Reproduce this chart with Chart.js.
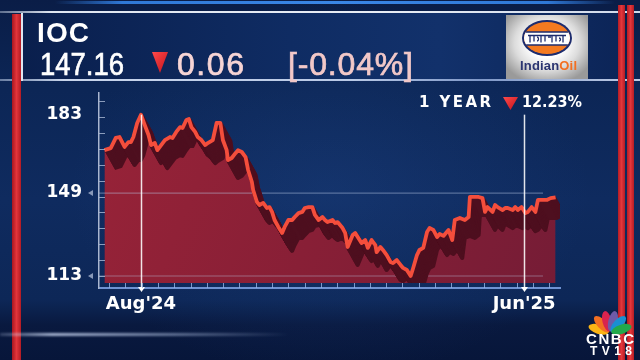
<!DOCTYPE html>
<html><head><meta charset="utf-8">
<script src="https://cdn.jsdelivr.net/npm/chart.js@4.4.1/dist/chart.umd.min.js"></script>
<style>
html,body{margin:0;padding:0;}
body{width:640px;height:360px;overflow:hidden;position:relative;background:#0d285b;font-family:"Liberation Sans",Arial,sans-serif;}
.abs{position:absolute;}
.t{position:absolute;white-space:nowrap;line-height:1;z-index:3;color:#fff;}
.hv{-webkit-text-stroke:0.7px currentColor;}
</style></head><body>
<div class="abs" style="left:0;top:0;width:640px;height:360px;background:
 radial-gradient(ellipse 260px 190px at 330px 190px, rgba(40,85,160,0.22), rgba(0,0,0,0)),
 linear-gradient(180deg,#0a1d47 0px,#0c2656 90px,#0f2b5f 200px,#0d2757 300px,#09193f 325px,#07163a 360px);"></div>
<div class="abs" style="left:22px;top:13px;width:596px;height:67px;background:linear-gradient(90deg,#0a1f4d,#0f2c63 45%,#12316b 70%,#0c2558);"></div>
<div class="abs" style="left:55px;top:1px;width:560px;height:3px;background:linear-gradient(90deg,rgba(47,120,214,0),#2f78d6 12%,#3a86e6 50%,#2f78d6 88%,rgba(47,120,214,0));"></div>
<div class="abs" style="left:0;top:11px;width:640px;height:2px;background:linear-gradient(90deg,rgba(220,230,245,.4),#dfe6f1 8%,#e8edf5 60%,#cfd9ea);"></div>
<div class="abs" style="left:0;top:79px;width:640px;height:2px;background:linear-gradient(90deg,rgba(200,215,240,.5),#c9d6ec 10%,#b9c9e6 55%,#7f98c8 75%,#c0cde6);"></div>
<div class="abs" style="left:12px;top:14px;width:9px;height:346px;background:linear-gradient(90deg,#a8161f,#e2353b 50%,#b31b24);"></div>
<div class="abs" style="left:21px;top:13px;width:2px;height:68px;background:#dfe6f0;"></div>
<div class="abs" style="left:618px;top:5px;width:7px;height:355px;background:linear-gradient(90deg,#b51c24,#e3373c 50%,#b51c24);"></div>
<div class="abs" style="left:627px;top:5px;width:7px;height:355px;background:linear-gradient(90deg,#b51c24,#e3373c 50%,#b51c24);"></div>
<div class="abs" style="left:0;top:333px;width:290px;height:3px;filter:blur(1px);background:linear-gradient(90deg,rgba(210,225,255,0.2),rgba(215,228,255,0.75) 18%,rgba(200,218,250,0.45) 60%,rgba(200,218,250,0));"></div>
<div class="abs" style="left:506px;top:15px;width:82px;height:64px;background:radial-gradient(ellipse 50px 42px at 41px 28px,#ffffff 35%,#dcdcdc 65%,#9a9a9a 100%);"></div>

<canvas id="c" width="640" height="360" style="position:absolute;left:0;top:0;z-index:1"></canvas>

<svg class="abs" width="640" height="360" style="left:0;top:0;z-index:2" xmlns="http://www.w3.org/2000/svg">
 <defs>
  <linearGradient id="tri" x1="0" y1="0" x2="1" y2="1"><stop offset="0" stop-color="#ff4a4a"/><stop offset="1" stop-color="#c3121c"/></linearGradient>
  <clipPath id="oc"><ellipse cx="547" cy="38" rx="23" ry="16"/></clipPath>
 </defs>
 <polygon points="152,52 168,52 160,73" fill="url(#tri)"/>
 <polygon points="503,97 518,97 510.5,110" fill="url(#tri)"/>
 <ellipse cx="547" cy="38" rx="25" ry="18" fill="#1d2c6e"/>
 <ellipse cx="547" cy="38" rx="23" ry="16" fill="#f47a20"/>
 <g clip-path="url(#oc)">
  <rect x="518" y="32" width="60" height="13" fill="#ffffff" stroke="#1d2c6e" stroke-width="1.5"/>
 </g>
 <g stroke="#1d2c6e" stroke-width="1.3" fill="none">
  <line x1="528" y1="35.5" x2="566" y2="35.5"/>
  <path d="M530 35.5v7M534 35.5v6M537 37c2 0 2 4 0 4M541 35.5v7M545 35.5v6M548 37h3M552 35.5v7M556 35.5v6M559 38c2 0 2 3 0 3M563 35.5v7"/>
 </g>
 <g transform="translate(610,333)">
  <ellipse cx="0" cy="-12" rx="4.6" ry="10.5" fill="#fbb515" transform="rotate(-72)"/>
  <ellipse cx="0" cy="-12" rx="4.6" ry="10.5" fill="#f26f22" transform="rotate(-43)"/>
  <ellipse cx="0" cy="-12" rx="4.6" ry="10.5" fill="#d8234e" transform="rotate(-14)"/>
  <ellipse cx="0" cy="-12" rx="4.6" ry="10.5" fill="#6e5aa8" transform="rotate(14)"/>
  <ellipse cx="0" cy="-12" rx="4.6" ry="10.5" fill="#1a8fd2" transform="rotate(43)"/>
  <ellipse cx="0" cy="-12" rx="4.6" ry="10.5" fill="#22a94b" transform="rotate(72)"/>
 </g>
</svg>

<span class="t" id="ioc" style="font-weight:bold">IOC</span>
<span class="t hv" id="price">147.16</span>
<span class="t hv" id="chg" style="color:#f7d5d5">0.06</span>
<span class="t hv" id="pct" style="color:#f2c8c8">[-0.04%]</span>
<span class="t" id="yr" style="font-family:'DejaVu Sans';font-weight:bold">1 YEAR</span>
<span class="t" id="yrp" style="font-family:'DejaVu Sans';font-weight:bold">12.23%</span>
<span class="t" id="logo" style="font-weight:bold"><span style="color:#2a3470">Indian</span><span style="color:#f36f21">Oil</span></span>
<span class="t" id="cnbc" style="font-weight:bold">CNBC</span>
<span class="t" id="tv" style="font-weight:bold">TV18</span>

<script>
// ---- data ----
const days = [2,7,11,14,18,21,23,25,28,31,34,37,39,42,44,47,50,54,56,59,62,64,67,69,71,74,76,79,82,84,88,91,94,96,99,100,103,106,108,111,114,116,119,120,123,125,128,131,133,135,137,140,143,145,148,151,153,156,159,161,164,167,169,172,175,177,179,183,185,187,191,193,195,199,201,203,206,209,211,214,217,218,221,223,226,229,231,234,237,239,242,245,247,250,252,255,258,260,263,266,268,271,275,278,280,284,288,291,292,295,299,302,304,306,310,312,314,318,320,322,326,328,330,333,336,338,341,344,346,349,353,356,360];
const prices = [167.6,168.5,172.9,173.3,169.0,171.1,171.1,173.3,179.4,183.0,178.5,174.2,169.8,170.7,167.6,169.8,172.0,173.3,172.9,175.5,177.6,177.2,180.7,181.1,177.6,175.5,173.3,172.0,169.8,170.7,172.0,179.4,179.4,172.0,167.6,163.3,164.2,166.3,167.6,166.8,164.6,159.0,153.8,150.3,145.1,143.8,144.7,142.5,142.9,140.8,137.3,134.3,131.7,134.3,137.3,137.3,138.6,140.3,140.8,142.5,142.9,142.9,139.5,137.3,138.6,137.3,136.4,137.3,136.0,136.4,133.8,131.7,125.6,130.8,131.7,129.9,127.3,128.6,125.2,128.6,126.4,123.4,125.6,124.3,122.1,119.1,118.6,119.9,117.8,116.5,115.6,113.0,116.5,122.1,124.3,125.2,132.1,133.8,133.0,129.9,131.2,130.4,133.0,128.6,137.3,138.2,137.3,138.6,147.3,147.3,147.3,146.8,140.8,142.9,140.8,143.8,142.9,141.6,142.5,142.5,141.6,142.9,141.6,142.9,140.3,140.8,142.9,140.8,146.0,146.0,146.0,146.8,147.16];
const yTicks = [113, 149, 183];
const xTickDays = [31, 335];
const xLabels = ["Aug'24", "Jun'25"];

// ---- header text placement ----
function place(id, x, base, fs, w){
  const el = document.getElementById(id);
  el.style.fontSize = fs + 'px';
  el.style.left = x + 'px';
  el.style.top = (base - 0.8465*fs) + 'px';
  const nat = el.getBoundingClientRect().width;
  const n = [...el.textContent].length;
  if (nat > w) { el.style.transformOrigin = '0 0'; el.style.transform = 'scaleX(' + (w/nat) + ')'; }
  else if (n > 1) { el.style.letterSpacing = ((w - nat)/(n - 1)) + 'px'; }
}
place('ioc', 37, 43, 28, 52);
place('price', 40, 75, 32, 84);
place('chg', 177, 75, 32, 67);
place('pct', 288, 75, 32, 125);
place('yr', 419, 108, 15, 72);
place('yrp', 522, 108, 15, 60);
place('logo', 520, 70, 13, 57);
place('cnbc', 586, 344, 15, 48);
place('tv', 590, 355, 12, 42);

// ---- chart ----
const pts = days.map((d, i) => ({x: d, y: prices[i]}));
const SDX = 10, SDY = 18;

const deco = {
  id: 'deco',
  beforeDatasetDraw(chart, args) {
    if (args.index !== 1) return;
    const {ctx, chartArea: a, scales: {x, y}} = chart;
    ctx.save();
    ctx.strokeStyle = 'rgba(185,200,228,0.42)';
    ctx.lineWidth = 1.2;
    [149, 113].forEach(v => {
      const py = y.getPixelForValue(v);
      ctx.beginPath(); ctx.moveTo(a.left, py); ctx.lineTo(x.getPixelForValue(350), py); ctx.stroke();
    });
    ctx.restore();
    ctx.save();
    ctx.beginPath(); ctx.rect(a.left, a.top, a.right - a.left, a.bottom - a.top - 5); ctx.clip();
    const N = 18;
    for (let i = N; i >= 1; i--) {
      ctx.save();
      ctx.translate(SDX * i / N, SDY * i / N);
      args.meta.controller.draw();
      ctx.restore();
    }
    ctx.restore();
    return false;
  },
  afterDatasetsDraw(chart) {
    const {ctx, chartArea: a, scales: {x, y}} = chart;
    ctx.save();
    xTickDays.forEach(d => {
      const px = Math.round(x.getPixelForValue(d)) + 0.5;
      ctx.strokeStyle = 'rgba(255,255,255,0.88)';
      ctx.lineWidth = 1.5;
      ctx.beginPath(); ctx.moveTo(px, y.getPixelForValue(183)); ctx.lineTo(px, a.bottom + 1); ctx.stroke();
      ctx.fillStyle = '#ffffff';
      ctx.beginPath(); ctx.moveTo(px - 3.5, a.bottom - 1); ctx.lineTo(px + 3.5, a.bottom - 1); ctx.lineTo(px, a.bottom + 4); ctx.closePath(); ctx.fill();
    });
    ctx.strokeStyle = 'rgba(170,185,212,0.8)';
    ctx.lineWidth = 1;
    const y0 = y.getPixelForValue(113);
    for (let py = y0; py > a.top + 4; py -= 15.9) {
      ctx.beginPath(); ctx.moveTo(a.left, Math.round(py) + 0.5); ctx.lineTo(a.left + 6, Math.round(py) + 0.5); ctx.stroke();
    }
    ctx.strokeStyle = 'rgba(150,180,230,0.8)';
    for (let px = a.left + 10; px < x.getPixelForValue(360); px += 16.3) {
      ctx.beginPath(); ctx.moveTo(Math.round(px) + 0.5, a.bottom - 5); ctx.lineTo(Math.round(px) + 0.5, a.bottom); ctx.stroke();
    }
    ctx.fillStyle = 'rgba(150,165,195,0.9)';
    [149, 113].forEach(v => {
      const py = y.getPixelForValue(v);
      ctx.beginPath(); ctx.moveTo(a.left - 11, py); ctx.lineTo(a.left - 6, py - 3); ctx.lineTo(a.left - 6, py + 3); ctx.closePath(); ctx.fill();
    });
    ctx.restore();
  }
};

new Chart(document.getElementById('c'), {
  type: 'line',
  data: {
    datasets: [
      { data: pts, order: 0, borderColor: '#f44e3c', borderWidth: 3.8, borderJoinStyle: 'round', pointRadius: 0, fill: false, tension: 0 },
      { data: pts, order: 1, borderColor: '#4e0f1f', borderWidth: 4, borderJoinStyle: 'round', pointRadius: 0, fill: false, tension: 0 },
      { data: pts, order: 2, borderWidth: 0, pointRadius: 0, tension: 0,
        fill: {value: 110},
        backgroundColor: (c) => {
          const a = c.chart.chartArea;
          if (!a) return '#86203a';
          const g = c.chart.ctx.createLinearGradient(a.left, a.top, a.right, a.bottom);
          g.addColorStop(0, '#982338');
          g.addColorStop(0.5, '#881f36');
          g.addColorStop(1, '#751c36');
          return g;
        } }
    ]
  },
  options: {
    responsive: false,
    animation: false,
    devicePixelRatio: 1,
    layout: { padding: { top: 93, right: 80, left: 0, bottom: 0 } },
    plugins: { legend: { display: false }, tooltip: { enabled: false } },
    scales: {
      x: {
        type: 'linear', min: -2.3, max: 363.5,
        afterFit: (s) => { s.height = 72; },
        afterBuildTicks: (s) => { s.ticks = xTickDays.map(v => ({value: v})); },
        ticks: {
          autoSkip: false, maxRotation: 0, padding: 6, color: '#ffffff',
          font: { family: 'DejaVu Sans', weight: 'bold', size: 18 },
          callback: (v) => xLabels[xTickDays.indexOf(v)]
        },
        grid: { display: false, drawTicks: false },
        border: { display: true, color: '#6f92d2', width: 2 }
      },
      y: {
        type: 'linear', min: 107.8, max: 192.4,
        afterFit: (s) => { s.width = 99; },
        afterBuildTicks: (s) => { s.ticks = yTicks.map(v => ({value: v})); },
        ticks: {
          padding: 17, color: '#ffffff',
          font: { family: 'DejaVu Sans', weight: 'bold', size: 17 },
          callback: (v) => String(v)
        },
        grid: { display: false, drawTicks: false },
        border: { display: true, color: '#a9b6cf', width: 1.5 }
      }
    }
  },
  plugins: [deco]
});
</script>
</body></html>
